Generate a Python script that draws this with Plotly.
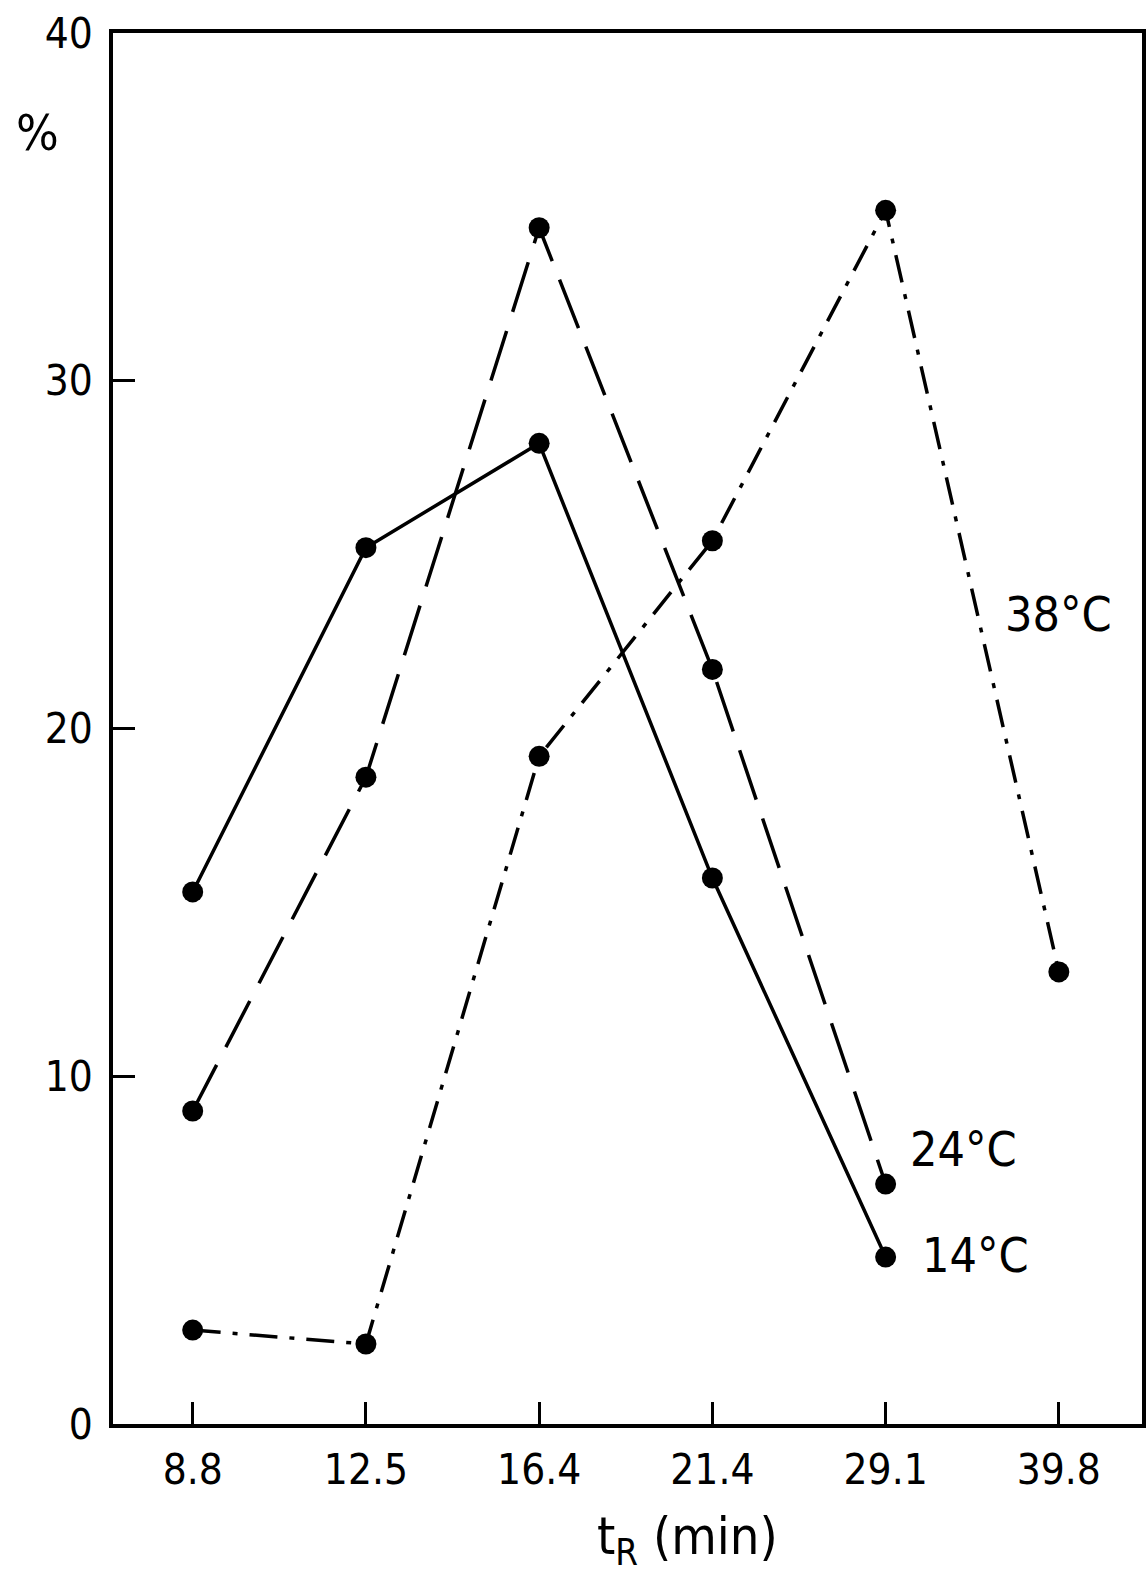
import plotly.graph_objects as go

categories = ["8.8", "12.5", "16.4", "21.4", "29.1", "39.8"]
t14 = [15.3, 25.2, 28.2, 15.7, 4.8]
t24 = [9.0, 18.6, 34.4, 21.7, 6.9]
t38 = [2.7, 2.3, 19.2, 25.4, 34.9, 13.0]
y_ticks = [0, 10, 20, 30, 40]

FONT = "DejaVu Sans Condensed, DejaVu Sans, sans-serif"
BLACK = "#000000"

W, H = 1148, 1579
ML, MR, MT, MB = 113, 2, 33, 155
PW, PH = W - ML - MR, H - MT - MB

fig = go.Figure()
marker = dict(size=21, color=BLACK)
fig.add_trace(go.Scatter(x=categories[:5], y=t14, mode="lines+markers",
                         line=dict(color=BLACK, width=3.5, dash="solid"), marker=marker,
                         name="14°C", showlegend=False))
fig.add_trace(go.Scatter(x=categories[:5], y=t24, mode="lines+markers",
                         line=dict(color=BLACK, width=3.5, dash="52px,20px"), marker=marker,
                         name="24°C", showlegend=False))
fig.add_trace(go.Scatter(x=categories, y=t38, mode="lines+markers",
                         line=dict(color=BLACK, width=3.5, dash="28px,12px,5px,12px"), marker=marker,
                         name="38°C", showlegend=False))

label_font = dict(family=FONT, size=48, color=BLACK)
fig.add_annotation(x=5.0, y=23.3, xref="x", yref="y", text="38°C", showarrow=False, font=label_font)
fig.add_annotation(x=4.45, y=7.9, xref="x", yref="y", text="24°C", showarrow=False, font=label_font)
fig.add_annotation(x=4.52, y=4.86, xref="x", yref="y", text="14°C", showarrow=False, font=label_font)

fig.add_annotation(x=(37 - ML) / PW, y=1 - (133 - MT) / PH, xref="paper", yref="paper",
                   text="%", showarrow=False, xanchor="center", yanchor="middle",
                   font=dict(family=FONT, size=50, color=BLACK))

fig.add_annotation(x=(690 - ML) / PW, y=1 - (1540 - MT) / PH, xref="paper", yref="paper",
                   text="t<sub>R</sub> (min)", showarrow=False, xanchor="center", yanchor="middle",
                   font=dict(family=FONT, size=52, color=BLACK))

fig.update_layout(
    width=W, height=H,
    margin=dict(l=ML, r=MR, t=MT, b=MB),
    paper_bgcolor="white", plot_bgcolor="white",
    font=dict(family=FONT, color=BLACK),
    showlegend=False,
)

fig.update_xaxes(type="category", categoryorder="array", categoryarray=categories,
                 range=[-0.46, 5.48], showline=True, linecolor=BLACK, linewidth=3.5, mirror=True,
                 ticks="inside", ticklen=22, tickwidth=3, tickcolor=BLACK,
                 tickfont=dict(family=FONT, size=42, color=BLACK), ticklabelstandoff=6,
                 showgrid=False, zeroline=False)
fig.update_yaxes(range=[0, 40], tickvals=y_ticks, ticktext=[str(v) for v in y_ticks],
                 showline=True, linecolor=BLACK, linewidth=3.5, mirror=True,
                 ticks="inside", ticklen=22, tickwidth=3, tickcolor=BLACK,
                 tickfont=dict(family=FONT, size=42, color=BLACK), ticklabelstandoff=8,
                 showgrid=False, zeroline=False)

fig.write_html("out.html")
